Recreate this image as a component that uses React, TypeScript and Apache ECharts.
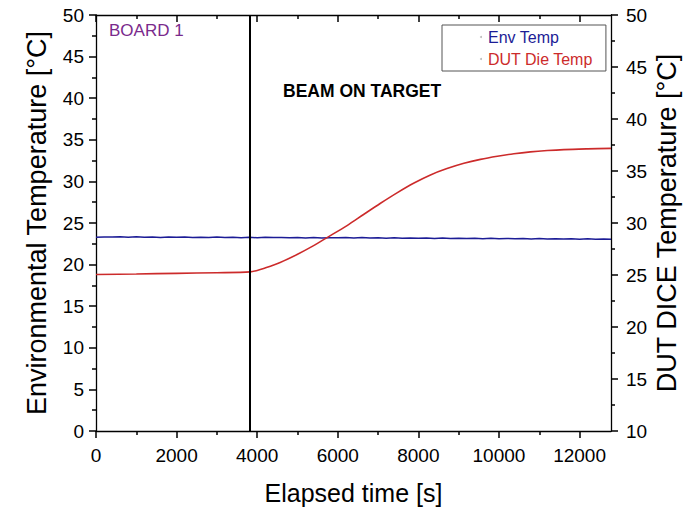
import React, { useEffect, useRef } from "react";
import * as echarts from "echarts";

// ---- data ----
const envTime = [0,200,400,600,800,1000,1200,1400,1600,1800,2000,2200,2400,2600,2800,3000,3200,3400,3600,3800,4000,4200,4400,4600,4800,5000,5200,5400,5600,5800,6000,6200,6400,6600,6800,7000,7200,7400,7600,7800,8000,8200,8400,8600,8800,9000,9200,9400,9600,9800,10000,10200,10400,10600,10800,11000,11200,11400,11600,11800,12000,12200,12400,12600,12780];
const envTemp = [23.28,23.33,23.31,23.35,23.30,23.34,23.29,23.32,23.27,23.31,23.28,23.33,23.26,23.30,23.27,23.31,23.25,23.29,23.24,23.28,23.23,23.29,23.25,23.27,23.22,23.26,23.21,23.25,23.20,23.24,23.22,23.27,23.21,23.25,23.19,23.23,23.18,23.22,23.17,23.21,23.16,23.20,23.15,23.19,23.14,23.18,23.13,23.17,23.12,23.16,23.11,23.15,23.10,23.14,23.09,23.13,23.08,23.12,23.07,23.11,23.06,23.10,23.06,23.09,23.05];

const dutTime = [0,1000,2000,3000,3826,4000,4160,4570,4990,5400,5690,6230,6640,7060,7470,7880,8300,8710,9130,9540,9960,10370,10780,11200,11610,12200,12780];
const dutTemp = [25.05,25.10,25.16,25.22,25.30,25.44,25.63,26.21,26.97,27.82,28.50,29.75,30.82,31.90,32.90,33.82,34.62,35.23,35.74,36.12,36.42,36.66,36.84,36.97,37.06,37.13,37.18];

const beamOnTime = 3826;
const xMax = 12780;
const xMajorTicks = [0, 2000, 4000, 6000, 8000, 10000, 12000];
const xMinorTicks = [1000, 3000, 5000, 7000, 9000, 11000];
const seriesNames = ["Env Temp", "DUT Die Temp"];

const FONT = "'Liberation Sans', Arial, sans-serif";
const BLUE = "#1c1c96";
const RED = "#cc2b2b";

export default function App() {
  const ref = useRef<HTMLDivElement>(null);

  useEffect(() => {
    if (!ref.current) return;
    const chart = echarts.init(ref.current, undefined, { renderer: "svg" });
    const axisLineStyle = { color: "#000", width: 1.3 };
    const tickStyle = () => ({ color: "#000", width: 1.5 });
    const xBase = {
      type: "value" as const,
      min: 0,
      max: xMax,
      splitLine: { show: false },
    };
    const option: any = {
      animation: false,
      backgroundColor: "#fff",
      textStyle: { fontFamily: FONT },
      grid: { left: 96, top: 15, right: 72, bottom: 78, containLabel: false, outerBoundsMode: "none" },
      legend: {
        left: 442,
        top: 25,
        orient: "vertical",
        icon: "circle",
        itemWidth: 4,
        itemHeight: 2,
        itemGap: 6,
        padding: [4, 13, 4, 38],
        borderColor: "#555",
        borderWidth: 1,
        backgroundColor: "#fff",
        textStyle: { fontSize: 16, lineHeight: 16, fontFamily: FONT },
        data: [
          { name: seriesNames[0], textStyle: { color: BLUE }, itemStyle: { color: "#bbb" } },
          { name: seriesNames[1], textStyle: { color: RED }, itemStyle: { color: "#bbb" } },
        ],
      },
      xAxis: [
        {
          ...xBase,
          position: "bottom",
          axisLine: { show: true, onZero: false, lineStyle: axisLineStyle },
          axisTick: { show: true, inside: false, length: 7, customValues: xMajorTicks, lineStyle: tickStyle() },
          axisLabel: {
            show: true,
            customValues: xMajorTicks,
            formatter: (v: number) => String(v),
            fontSize: 19,
            color: "#000",
            margin: 15,
            fontFamily: FONT,
          },
          name: "Elapsed time [s]",
          nameLocation: "middle",
          nameGap: 49,
          nameMoveOverlap: false,
          nameTextStyle: { fontSize: 25, lineHeight: 25, color: "#000", fontFamily: FONT },
        },
        {
          ...xBase,
          position: "bottom",
          axisLine: { show: false, onZero: false },
          axisTick: { show: true, inside: false, length: 4, customValues: xMinorTicks, lineStyle: tickStyle() },
          axisLabel: { show: false },
        },
        {
          ...xBase,
          position: "top",
          axisLine: { show: true, onZero: false, lineStyle: axisLineStyle },
          axisTick: { show: true, inside: true, length: 7, customValues: xMajorTicks, lineStyle: tickStyle() },
          axisLabel: { show: false },
        },
        {
          ...xBase,
          position: "top",
          axisLine: { show: false, onZero: false },
          axisTick: { show: true, inside: true, length: 4, customValues: xMinorTicks, lineStyle: tickStyle() },
          axisLabel: { show: false },
        },
      ],
      yAxis: [
        {
          type: "value",
          position: "left",
          min: 0,
          max: 50,
          interval: 5,
          splitLine: { show: false },
          axisLine: { show: true, onZero: false, lineStyle: axisLineStyle },
          axisTick: { show: true, inside: false, length: 7, lineStyle: tickStyle() },
          minorTick: { show: true, splitNumber: 2, length: 4, lineStyle: tickStyle() },
          axisLabel: { fontSize: 19, color: "#000", margin: 12, fontFamily: FONT },
          name: "Environmental Temperature [°C]",
          nameLocation: "middle",
          nameGap: 46,
          nameMoveOverlap: false,
          nameTextStyle: { fontSize: 27, lineHeight: 27, color: "#000", fontFamily: FONT },
        },
        {
          type: "value",
          position: "right",
          min: 10,
          max: 50,
          interval: 5,
          splitLine: { show: false },
          axisLine: { show: true, onZero: false, lineStyle: axisLineStyle },
          axisTick: { show: true, inside: false, length: 7, lineStyle: tickStyle() },
          minorTick: { show: true, splitNumber: 2, length: 4, lineStyle: tickStyle() },
          axisLabel: { fontSize: 19, color: "#000", margin: 15, fontFamily: FONT },
          name: "DUT DICE Temperature [°C]",
          nameLocation: "middle",
          nameGap: 42,
          nameMoveOverlap: false,
          nameTextStyle: { fontSize: 27, lineHeight: 27, color: "#000", fontFamily: FONT },
        },
      ],
      series: [
        {
          name: seriesNames[0],
          type: "line",
          xAxisIndex: 0,
          yAxisIndex: 0,
          showSymbol: false,
          symbol: "none",
          data: envTime.map((t, i) => [t, envTemp[i]]),
          lineStyle: { color: BLUE, width: 1.5 },
          itemStyle: { color: BLUE },
          markLine: {
            silent: true,
            symbol: ["none", "none"],
            label: { show: false },
            lineStyle: { color: "#000", width: 2, type: "solid" },
            data: [{ xAxis: beamOnTime }],
          },
          z: 3,
        },
        {
          name: seriesNames[1],
          type: "line",
          xAxisIndex: 0,
          yAxisIndex: 1,
          showSymbol: false,
          symbol: "none",
          smooth: 0.3,
          data: dutTime.map((t, i) => [t, dutTemp[i]]),
          lineStyle: { color: RED, width: 1.6 },
          itemStyle: { color: RED },
          z: 4,
        },
      ],
      graphic: [
        {
          type: "text",
          x: 109,
          y: 30,
          style: { text: "BOARD 1", fill: "#7a2a8c", font: `17px ${FONT}`, verticalAlign: "middle", align: "left" },
        },
        {
          type: "text",
          x: 283,
          y: 91,
          style: { text: "BEAM ON TARGET", fill: "#000", font: `bold 17.5px ${FONT}`, verticalAlign: "middle", align: "left" },
        },
      ],
    };
    chart.setOption(option);
    return () => chart.dispose();
  }, []);

  return (
    <div
      ref={ref}
      style={{ position: "absolute", left: 0, top: 0, width: 683, height: 509, background: "#fff" }}
    />
  );
}
